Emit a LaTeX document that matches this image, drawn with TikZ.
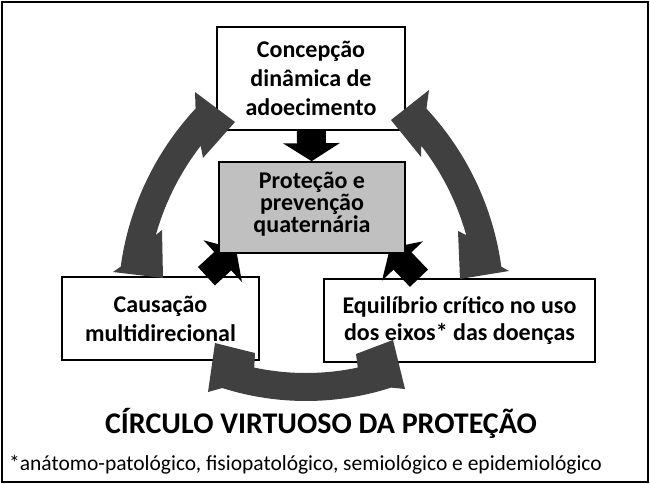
\documentclass[tikz,border=0pt]{standalone}
\usepackage{fontspec}
\setmainfont{Carlito}
\usepackage{xcolor}
\usepackage{tikz}
\usetikzlibrary{arrows.meta,calc}
\definecolor{arcgrey}{HTML}{404040}
\definecolor{coregrey}{HTML}{C0C0C0}

\begin{document}
\begin{tikzpicture}[x=1pt, y=-1pt,
  box/.style={draw, line width=1.6pt, fill=white, align=center, inner sep=0pt,
              font=\fontsize{24pt}{29pt}\selectfont\bfseries},
  core/.style={box, fill=coregrey, text depth=11pt,
               font=\fontsize{24pt}{22pt}\selectfont\bfseries},
  blk/.style={line width=25pt, -{Triangle[width=56pt, length=18pt]}},
  cyclearc/.style={fill=arcgrey},
  headline/.style={font=\fontsize{30pt}{36pt}\selectfont\bfseries},
  note/.style={font=\fontsize{21.5pt}{26pt}\selectfont, anchor=west, inner sep=0pt}]
\useasboundingbox (0,0) rectangle (650,484);
\draw[line width=1.6pt] (2,2) rectangle (648,482);
\node[box, minimum width=188pt, minimum height=103pt] (dyn) at (311,78.5) {Concepção\\dinâmica de\\adoecimento};
\node[box, minimum width=197pt, minimum height=83pt] (cause) at (160.5,318.5) {Causação\\multidirecional};
\node[box, minimum width=271pt, minimum height=83pt, font=\fontsize{24pt}{27pt}\selectfont\bfseries] (axes) at (459.5,320.5) {Equilíbrio crítico no uso\\dos eixos* das doenças};
\coordinate (pw) at (236,249);
\coordinate (pe) at (390,248);
\draw[blk] (cause) -- (pw);
\draw[blk] (axes) -- (pe);
\node[core, minimum width=186pt, minimum height=91pt] (prot) at (312,207.5) {Proteção e\\prevenção\\quaternária};
\draw[blk, line width=29pt] (dyn) -- (prot);
\fill[cyclearc] ([shift={(187.8:290)}]408,306) arc[start angle=187.8, end angle=222.9, radius=290]
  -- (195,92) -- (235,122) -- (203,158)
  -- ([shift={(217.7:262)}]408,306) arc[start angle=217.7, end angle=195.7, radius=262]
  -- (162,230) -- (163,278) -- (113,272) -- cycle;
\fill[cyclearc] ([shift={(-7.8:290)}]214,306) arc[start angle=-7.8, end angle=-42.9, radius=290]
  -- (429,90) -- (391,120) -- (421,157)
  -- ([shift={(-37.7:262)}]214,306) arc[start angle=-37.7, end angle=-15.7, radius=262]
  -- (458,231) -- (460,279) -- (509,271) -- cycle;
\fill[cyclearc] ([shift={(107.6:277)}]306,124) arc[start angle=107.6, end angle=72.1, radius=277]
  -- (405,389) -- (393,340) -- (356,354)
  -- ([shift={(78:249)}]306,124) arc[start angle=78, end angle=102, radius=249]
  -- (255,353) -- (215,343) -- (208,392) -- cycle;
\node[headline] (name) at (321,423) {CÍRCULO VIRTUOSO DA PROTEÇÃO};
\node[note] (axesnote) at (9,465) {*anátomo-patológico, fisiopatológico, semiológico e epidemiológico};
\end{tikzpicture}
\end{document}
